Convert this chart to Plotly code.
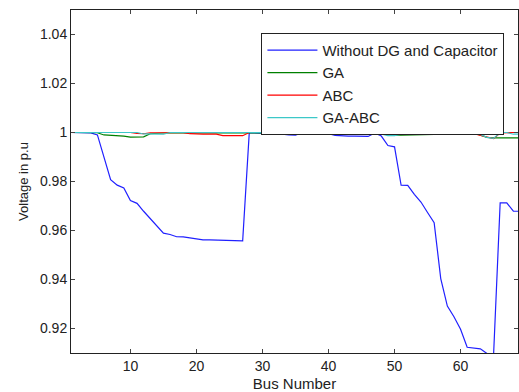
import plotly.graph_objects as go

bus = list(range(1, 70))

without_dg = [1.0000, 0.99997, 0.99993, 0.99984, 0.99902, 0.99008, 0.98073, 0.97851, 0.97737, 0.97224,
              0.97108, 0.96785, 0.96484, 0.96186, 0.95891, 0.95836, 0.95744, 0.95743, 0.95696, 0.95666,
              0.95618, 0.95617, 0.95611, 0.95598, 0.95583, 0.95577, 0.95575, 0.99993, 0.99985, 0.99973,
              0.99971, 0.99961, 0.99935, 0.99901, 0.99895, 0.99992, 0.99975, 0.99959, 0.99954, 0.99954,
              0.99884, 0.99855, 0.99851, 0.99850, 0.99841, 0.99840, 0.99979, 0.99854, 0.99470, 0.99415,
              0.97846, 0.97845, 0.97475, 0.97163, 0.96735, 0.96316, 0.94036, 0.92917, 0.92481, 0.91969,
              0.91235, 0.91206, 0.91168, 0.90980, 0.90923, 0.97129, 0.97129, 0.96786, 0.96785]

ga = [1.0000, 1.0000, 1.0000, 1.0000, 0.9999, 0.9990, 0.9989, 0.9988, 0.9985, 0.9981,
      0.9980, 0.9982, 0.9995, 0.9998, 0.9998, 0.9998, 0.9998, 0.9998, 0.9999, 1.0000,
      1.0000, 1.0000, 1.0000, 1.0000, 1.0000, 1.0000, 1.0000, 1.0000, 1.0000, 1.0000,
      1.0000, 1.0000, 1.0000, 1.0000, 1.0000, 1.0000, 1.0000, 1.0000, 1.0000, 1.0000,
      1.0000, 1.0000, 1.0000, 1.0000, 1.0000, 1.0000, 0.9998, 0.9994, 0.9990, 0.9989,
      0.9989, 0.9989, 0.9989, 0.9989, 0.9989, 0.9992, 0.9998, 0.9999, 1.0000, 1.0000,
      1.0000, 0.9998, 0.9990, 0.9980, 0.9978, 0.9978, 0.9978, 0.9978, 0.9978]

abc = [1.0000, 1.0000, 1.0000, 1.0000, 1.0000, 1.0000, 1.0000, 1.0000, 1.0000, 1.0000,
       0.9996, 0.9995, 0.9999, 0.9999, 0.9999, 0.9999, 0.9999, 0.9999, 0.9995, 0.9993,
       0.9993, 0.9993, 0.9993, 0.9987, 0.9987, 0.9987, 0.9987, 1.0000, 1.0000, 1.0000,
       1.0000, 1.0000, 1.0000, 1.0000, 1.0000, 1.0000, 1.0000, 1.0000, 1.0000, 1.0000,
       1.0000, 1.0000, 1.0000, 1.0000, 1.0000, 1.0000, 1.0000, 1.0000, 1.0000, 1.0000,
       1.0000, 1.0000, 1.0000, 1.0000, 1.0000, 1.0000, 1.0000, 1.0000, 1.0000, 1.0000,
       1.0000, 0.9995, 0.9988, 0.9980, 0.9975, 0.9998, 1.0000, 1.0000, 1.0000]

ga_abc = [1.0000, 1.0000, 1.0000, 1.0000, 1.0000, 1.0000, 1.0000, 1.0000, 1.0000, 1.0000,
          1.0000, 0.9994, 0.9993, 0.9993, 0.9993, 1.0000, 1.0000, 1.0000, 1.0000, 1.0000,
          1.0000, 1.0000, 1.0000, 1.0000, 1.0000, 1.0000, 1.0000, 1.0000, 1.0000, 1.0000,
          1.0000, 0.9999, 0.9998, 0.9999, 1.0000, 1.0000, 1.0000, 1.0000, 1.0000, 0.9993,
          0.9993, 0.9993, 0.9993, 0.9993, 0.9993, 0.9995, 1.0000, 0.9995, 0.9987, 0.9987,
          0.9993, 0.9993, 0.9993, 0.9993, 0.9995, 1.0000, 1.0000, 1.0000, 1.0000, 1.0000,
          1.0000, 1.0000, 0.9992, 0.9980, 0.9976, 1.0000, 1.0000, 0.9993, 0.9993]

x_ticks = [10, 20, 30, 40, 50, 60]
y_ticks = [0.92, 0.94, 0.96, 0.98, 1.0, 1.02, 1.04]
y_tick_labels = ["0.92", "0.94", "0.96", "0.98", "1", "1.02", "1.04"]

series = [
    ("Without DG and Capacitor", without_dg, "#2020FF"),
    ("GA", ga, "#008000"),
    ("ABC", abc, "#FF0000"),
    ("GA-ABC", ga_abc, "#3CC8C8"),
]

fig = go.Figure()
for name, vals, col in series:
    fig.add_trace(go.Scatter(x=bus, y=vals, mode="lines", name=name,
                             line=dict(color=col, width=1.2)))

font = "Liberation Sans, Arial, sans-serif"
fig.update_layout(
    width=519, height=392,
    margin=dict(l=71, r=0, t=10, b=36),
    paper_bgcolor="white", plot_bgcolor="white",
    font=dict(family=font, color="#222222", size=14),
    showlegend=True,
    legend=dict(x=0.426, y=0.9335, xanchor="left", yanchor="top",
                bgcolor="white", bordercolor="#222222", borderwidth=1,
                font=dict(size=15, family=font, color="#222222"),
                itemwidth=50, tracegroupgap=0),
    xaxis=dict(range=[1, 68.7], tickvals=x_ticks, ticks="inside", ticklen=4,
               showline=True, linecolor="#222222", linewidth=1, mirror="ticks",
               showgrid=False, zeroline=False,
               tickfont=dict(size=14),
               title=dict(text="Bus Number", font=dict(size=15), standoff=8)),
    yaxis=dict(range=[0.91, 1.05], tickvals=y_ticks, ticktext=y_tick_labels,
               ticks="inside", ticklen=4,
               showline=True, linecolor="#222222", linewidth=1, mirror="ticks",
               showgrid=False, zeroline=False,
               tickfont=dict(size=14),
               title=dict(text="Voltage in p.u", font=dict(size=13), standoff=8)),
)

fig.write_html(
    "out.html",
    config={"displayModeBar": False},
    post_script="document.body.style.margin='0px';document.documentElement.style.overflow='hidden';document.body.style.overflow='hidden';",
)
